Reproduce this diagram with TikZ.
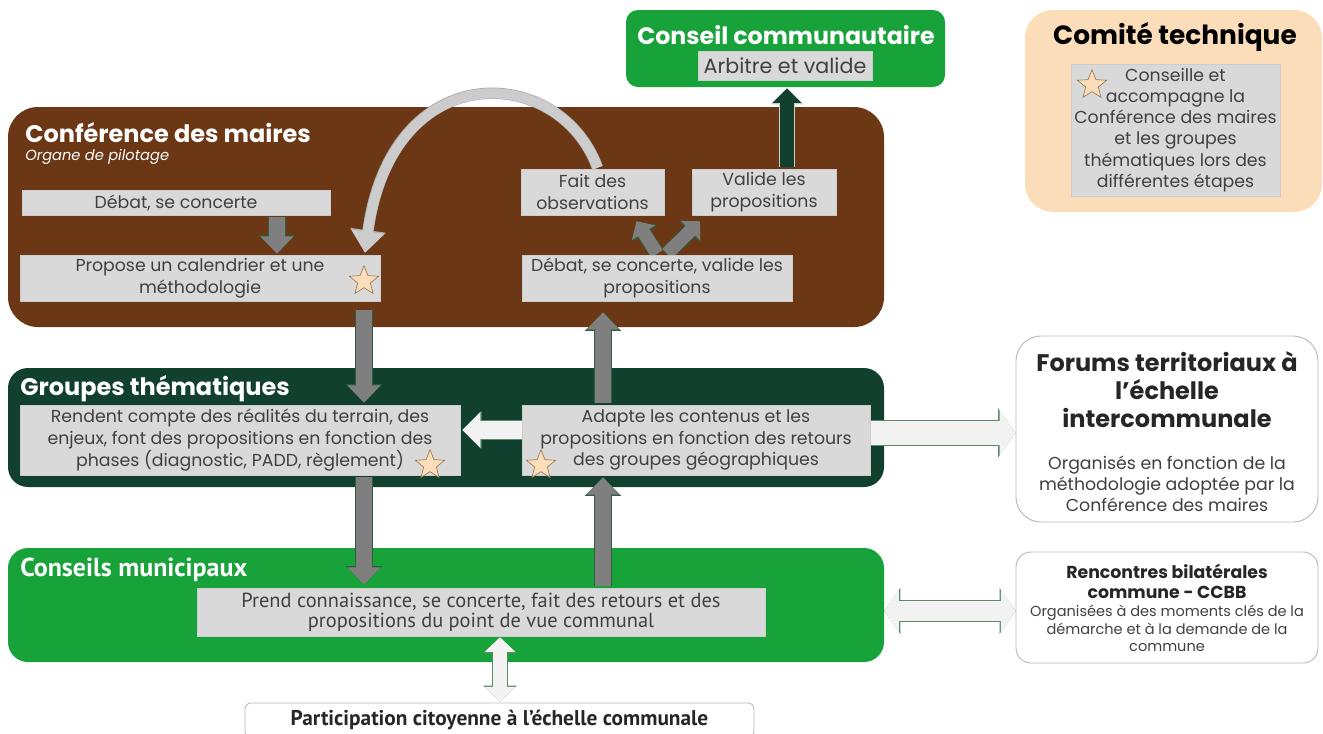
\documentclass[tikz,border=0pt]{standalone}
\usepackage{fontspec}
\setmainfont{Poppins}
\newfontfamily\narrowfont{PT Sans}
\usepackage{tikz}
\usepackage{xcolor}
\usetikzlibrary{shapes.geometric, arrows.meta, positioning, calc}

\definecolor{brownbg}{HTML}{6B3714}
\definecolor{darkbg}{HTML}{12402F}
\definecolor{greenbg}{HTML}{17A33A}
\definecolor{peach}{HTML}{FCDDBA}
\definecolor{boxgray}{HTML}{D9D9D9}
\definecolor{txtgray}{HTML}{404040}
\definecolor{titledark}{HTML}{262626}
\definecolor{arrgray}{HTML}{7F7F7F}
\definecolor{arrline}{HTML}{2E5E3E}
\definecolor{palefill}{HTML}{F2F2F2}
\definecolor{paleline}{HTML}{5B8A66}
\definecolor{starline}{HTML}{9C7A55}

\pgfdeclarelayer{back}
\pgfdeclarelayer{mid}
\pgfsetlayers{back,mid,main}

\begin{document}
\begin{tikzpicture}[x=0.75pt, y=-0.75pt,
    panel/.style={rectangle, inner sep=0pt},
    whitepanel/.style={panel, draw=gray!55, fill=white, line width=0.7pt},
    heading/.style={anchor=west, inner sep=0pt, text=white, font=\fontsize{18}{21}\selectfont\bfseries},
    graybox/.style={rectangle, fill=boxgray, draw=gray!40, line width=0.4pt, inner sep=0pt, text=txtgray, align=center, font=\fontsize{13}{16.4}\selectfont},
    starmark/.style={star, star points=5, star point ratio=2.3, minimum size=23pt, inner sep=0pt, fill=peach, draw=starline, line width=0.5pt},
    grayv/.style={draw=arrgray, line width=12pt, -{Triangle[length=13pt,width=24pt]},
      preaction={draw=arrline, line width=13.2pt, -{Triangle[length=14pt,width=26.5pt]}}},
    graydiag/.style={draw=arrgray, line width=10pt, -{Triangle[length=10pt,width=20pt]},
      preaction={draw=arrline, line width=11.2pt, -{Triangle[length=11pt,width=22.5pt]}}},
    darkup/.style={draw=darkbg, line width=11pt, -{Triangle[length=11pt,width=21pt]},
      preaction={draw=gray!40, line width=12.4pt, -{Triangle[length=12pt,width=23.5pt]}}},
    loopback/.style={draw=gray!40, line width=7.5pt, -{Triangle[length=16pt,width=24pt]},
      preaction={draw=gray!65, line width=8.5pt, -{Triangle[length=17pt,width=26pt]}}},
    paleleft/.style={draw=palefill, line width=13.5pt, -{Triangle[length=13.5pt,width=26pt]},
      preaction={draw=paleline, line width=14.5pt, -{Triangle[length=14.5pt,width=28pt]}}},
    palewide/.style={draw=palefill, line width=18pt, arrows={{Triangle[length=12pt,width=34pt]}-{Triangle[length=12pt,width=34pt]}},
      preaction={draw=paleline, line width=19pt, arrows={{Triangle[length=13pt,width=36pt]}-{Triangle[length=13pt,width=36pt]}}}},
    palemid/.style={draw=palefill, line width=15pt, arrows={{Triangle[length=11pt,width=32pt]}-{Triangle[length=11pt,width=32pt]}},
      preaction={draw=paleline, line width=16pt, arrows={{Triangle[length=12pt,width=34pt]}-{Triangle[length=12pt,width=34pt]}}}},
    palesmall/.style={draw=palefill, line width=10.5pt, arrows={{Triangle[length=11pt,width=22.5pt]}-{Triangle[length=11pt,width=22.5pt]}},
      preaction={draw=paleline, line width=11.5pt, arrows={{Triangle[length=12pt,width=24.5pt]}-{Triangle[length=12pt,width=24.5pt]}}}}
  ]
  \useasboundingbox (0,0) rectangle (1323,733);
  \clip (0,0) rectangle (1323,733);

  % coloured bodies
  \begin{pgfonlayer}{back}
    \node[panel, fill=greenbg, rounded corners=9pt, minimum width=239.25pt, minimum height=57.75pt] (commun) at (785.5,48.5) {};
    \node[panel, fill=peach, rounded corners=21pt, minimum width=222.75pt, minimum height=151.5pt] (comite) at (1173.5,111) {};
    \node[panel, fill=brownbg, rounded corners=22.5pt, minimum width=657pt, minimum height=165pt] (conf) at (446,217) {};
    \node[panel, fill=darkbg, rounded corners=15pt, minimum width=657pt, minimum height=89.25pt] (groupes) at (446,427.5) {};
    \node[panel, fill=greenbg, rounded corners=15pt, minimum width=657pt, minimum height=85.5pt] (muni) at (446,605) {};
  \end{pgfonlayer}

  % headings
  \node[inner sep=0pt, text=white, font=\fontsize{17.8}{20}\selectfont\bfseries] (communT) at (786,35) {Conseil communautaire};
  \node[inner sep=0pt, font=\fontsize{19.8}{23}\selectfont\bfseries] (comiteT) at (1175,37) {Comité technique};
  \node[heading] (confT) at (25,133) {Conférence des maires};
  \node[heading, font=\fontsize{11}{13}\selectfont\itshape] (confS) at (25,157) {Organe de pilotage};
  \node[heading] (groupesT) at (20,389) {Groupes thématiques};
  \node[heading, font=\narrowfont\fontsize{19.5}{22}\selectfont\bfseries] (muniT) at (20,570) {Conseils municipaux};

  % grey steps
  \node[graybox, font=\fontsize{15.5}{18}\selectfont, minimum width=130.5pt, minimum height=21.75pt] (arbitre) at (785,65.5) {Arbitre et valide};
  \node[graybox, font=\fontsize{13}{15.9}\selectfont, minimum width=156.75pt, minimum height=99pt] (conseille) at (1175.5,130) {Conseille et\\accompagne la\\Conférence des maires\\et les groupes\\thématiques lors des\\différentes étapes};
  \node[graybox, minimum width=231pt, minimum height=18.75pt] (debat1) at (176,202.5) {Débat, se concerte};
  \node[graybox, minimum width=270pt, minimum height=34.5pt] (propose) at (200,278) {Propose un calendrier et une\\méthodologie};
  \node[graybox, minimum width=107.25pt, minimum height=34.5pt] (fait) at (592.5,192) {Fait des\\observations};
  \node[graybox, minimum width=108pt, minimum height=34.5pt] (valide) at (764,192) {Valide les\\propositions};
  \node[graybox, minimum width=202.5pt, minimum height=34.5pt] (debat2) at (657,278) {Débat, se concerte, valide les\\propositions};
  \node[graybox, minimum width=330pt, minimum height=52.5pt] (rendent) at (240,440) {Rendent compte des réalités du terrain, des\\enjeux, font des propositions en fonction des\\phases (diagnostic, PADD, règlement)};
  \node[graybox, minimum width=261pt, minimum height=52.5pt] (adapte) at (696,440) {Adapte les contenus et les\\propositions en fonction des retours\\des groupes géographiques};
  \node[graybox, font=\narrowfont\fontsize{15.3}{15}\selectfont, minimum width=426pt, minimum height=36pt] (prend) at (481,612) {Prend connaissance, se concerte, fait des retours et des\\propositions du point de vue communal};

  % stars
  \node[starmark] (starP) at (364,281) {};
  \node[starmark] (starR) at (430,465) {};
  \node[starmark] (starA) at (541,465) {};
  \node[starmark] (starC) at (1092,85) {};

  % outside partners
  \node[whitepanel, rounded corners=18.75pt, minimum width=226.5pt, minimum height=139.5pt] (forums) at (1167,429) {};
  \node[font=\fontsize{18}{21}\selectfont\bfseries, text=titledark, align=center] (forumsT) at (1167,390) {Forums territoriaux à\\l’échelle\\intercommunale};
  \node[font=\fontsize{13}{15.75}\selectfont, text=txtgray, align=center] (forumsS) at (1167,484) {Organisés en fonction de la\\méthodologie adoptée par la\\Conférence des maires};
  \node[whitepanel, rounded corners=11.25pt, minimum width=226.5pt, minimum height=83.25pt] (renc) at (1167,607.5) {};
  \node[font=\fontsize{13}{15}\selectfont\bfseries, text=titledark, align=center] (rencT) at (1167,581) {Rencontres bilatérales\\commune - CCBB};
  \node[font=\fontsize{10.9}{13.1}\selectfont, text=txtgray, align=center] (rencS) at (1167,628.5) {Organisées à des moments clés de la\\démarche et à la demande de la\\commune};
  \node[whitepanel, rounded corners=4.5pt, minimum width=381.75pt, minimum height=25.5pt, text=titledark, font=\narrowfont\fontsize{16}{18}\selectfont\bfseries] (partic) at (499.5,720) {Participation citoyenne à l’échelle communale};

  % flows
  \begin{pgfonlayer}{mid}
    \draw[grayv] ($(debat1.south)+(101,2)$) -- ($(propose.north)+(77,-1)$);
    \draw[grayv] ($(propose.south)+(164,9)$) -- ($(rendent.north)+(124,-2)$);
    \draw[grayv] ($(rendent.south)+(124,2)$) -- ($(prend.north)+(-117,-3)$);
    \draw[grayv] ($(prend.north)+(122,-2)$) -- ($(adapte.south)+(-93,2)$);
    \draw[grayv] ($(adapte.north)+(-93,-2)$) -- ($(debat2.south)+(-54,11)$);
    \draw[graydiag] ($(debat2.north)+(0,-1)$) -- ($(fait.south)+(44,6)$);
    \draw[graydiag] ($(debat2.north)+(10,-1)$) -- ($(valide.south)+(-64,6)$);
    \draw[darkup] ($(valide.north)+(23,-2)$) -- ($(commun.south)+(1.5,1)$);
    \draw[loopback] ($(fait.north)+(5,-1)$) .. controls (560,64) and (392,54) .. ($(propose.north)+(165,-2)$);
    \draw[paleleft] ($(adapte.west)+(0,-10)$) -- ($(rendent.east)+(2,-10)$);
    \draw[palewide] ($(adapte.east)+(-20,-7)$) -- (forums.west |- 0,433);
    \draw[palemid] ($(muni.east)+(0,6)$) -- ($(renc.west)+(0,3.5)$);
    \draw[palesmall] ($(prend.south)+(19,1)$) -- ($(partic.north)+(0.5,-1)$);
  \end{pgfonlayer}
\end{tikzpicture}
\end{document}
